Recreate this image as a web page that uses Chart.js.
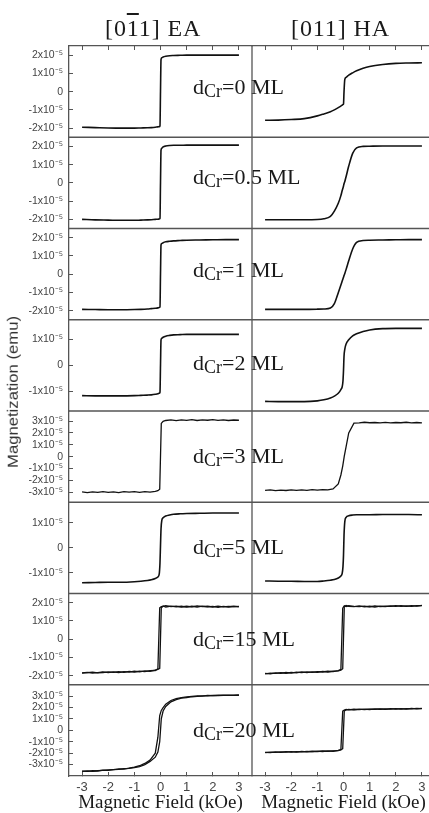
<!DOCTYPE html>
<html>
<head>
<meta charset="utf-8">
<title>Magnetization loops vs Cr thickness</title>
<script src="https://cdn.jsdelivr.net/npm/chart.js@4.4.0/dist/chart.umd.min.js"></script>
<style>
  html, body { margin: 0; padding: 0; background: #fff; overflow: hidden; }
  #wrap { position: relative; width: 429px; height: 813px; overflow: hidden; }
  #loops { position: absolute; left: 0; top: 0; }
  .lbl { position: absolute; font-family: 'Liberation Serif', 'Times New Roman', serif; color: #1a1a1a; line-height: 1; white-space: nowrap; }
  .col { font-size: 24px; letter-spacing: 0.9px; top: 16px; }
  .over { text-decoration: overline; }
  .dcr { font-size: 22px; }
  .dcr span { font-size: 18px; vertical-align: -3px; }
  #ytitle { position: absolute; left: 13px; top: 392px; white-space: nowrap;
    font: 14.5px 'Liberation Sans', Arial, sans-serif; color: #333; line-height: 1;
    transform: translate(-50%, -50%) rotate(-90deg) scaleX(1.15); }
</style>
</head>
<body>
<div id="wrap">
  <canvas id="loops" width="435" height="813"></canvas>
  <div class="lbl col" style="left:105px">[0<span class="over">1</span>1] EA</div>
  <div class="lbl col" style="left:291px">[011] HA</div>
  <div id="ytitle">Magnetization (emu)</div>
</div>

<script>
// field in kOe, moment in units of 1e-5 emu
const fieldTicks = [-3, -2, -1, 0, 1, 2, 3];
const crThickness = ['0', '0.5', '1', '2', '3', '5', '15', '20'];
const rowLimit = [2.5, 2.5, 2.5, 1.75, 3.85, 1.82, 2.5, 4];
const rowTicks = [
  [-2, -1, 0, 1, 2], [-2, -1, 0, 1, 2], [-2, -1, 0, 1, 2], [-1, 0, 1],
  [-3, -2, -1, 0, 1, 2, 3], [-1, 0, 1], [-2, -1, 0, 1, 2], [-3, -2, -1, 0, 1, 2, 3]
];

const fieldSmooth = [-3, -2.5, -2, -1.5, -1, -0.75, -0.5, -0.35, -0.2, -0.1, -0.05, -0.02, 0,
  0.02, 0.05, 0.1, 0.2, 0.35, 0.5, 0.75, 1, 1.5, 2, 2.5, 3];
const fieldNoisy = [-3, -2.8, -2.6, -2.4, -2.2, -2, -1.8, -1.6, -1.4, -1.2, -1, -0.8, -0.6, -0.4, -0.2, -0.1, -0.03,
  0.03, 0.1, 0.2, 0.4, 0.6, 0.8, 1, 1.2, 1.4, 1.6, 1.8, 2, 2.2, 2.4, 2.6, 2.8, 3];

const ea0 = [-1.95, -1.97, -1.99, -2.0, -2.0, -1.99, -1.98, -1.97, -1.95, -1.93, -1.92, -1.88, 0,
  1.75, 1.86, 1.9, 1.94, 1.97, 1.98, 1.99, 2.0, 2.0, 2.0, 2.0, 2.0];
const ha0 = [-1.57, -1.56, -1.53, -1.48, -1.33, -1.22, -1.1, -1.0, -0.88, -0.79, -0.74, -0.71, -0.68,
  0.0, 0.67, 0.78, 0.9, 1.03, 1.14, 1.28, 1.38, 1.49, 1.55, 1.57, 1.58];
const ea05 = [-2.0, -2.03, -2.04, -2.05, -2.05, -2.04, -2.03, -2.02, -2.0, -1.99, -1.98, -1.95, 0,
  1.8, 1.9, 1.97, 2.02, 2.05, 2.06, 2.06, 2.07, 2.07, 2.07, 2.07, 2.07];
const ha05 = [-2.02, -2.02, -2.02, -2.02, -2.01, -1.97, -1.84, -1.55, -1.12, -0.7, -0.42, -0.28, -0.17,
  -0.05, 0.08, 0.35, 0.92, 1.62, 1.92, 2.0, 2.01, 2.02, 2.02, 2.02, 2.02];
const ea1 = [-1.93, -1.94, -1.95, -1.95, -1.94, -1.93, -1.91, -1.89, -1.87, -1.85, -1.83, -1.8, 0,
  1.6, 1.68, 1.72, 1.77, 1.8, 1.82, 1.84, 1.86, 1.87, 1.88, 1.89, 1.89];
const ha1 = [-1.93, -1.93, -1.93, -1.93, -1.92, -1.91, -1.86, -1.62, -1.02, -0.6, -0.38, -0.25, -0.17,
  -0.08, 0.04, 0.26, 0.73, 1.38, 1.74, 1.84, 1.86, 1.87, 1.88, 1.89, 1.89];
const ea2 = [-1.16, -1.17, -1.17, -1.17, -1.16, -1.15, -1.14, -1.13, -1.11, -1.09, -1.07, -1.03, 0,
  0.98, 1.04, 1.08, 1.12, 1.15, 1.17, 1.18, 1.19, 1.19, 1.19, 1.19, 1.19];
const ha2 = [-1.38, -1.39, -1.39, -1.39, -1.36, -1.32, -1.25, -1.18, -1.07, -0.93, -0.82, -0.6, -0.2,
  0.35, 0.62, 0.82, 0.98, 1.13, 1.21, 1.3, 1.36, 1.41, 1.42, 1.42, 1.42];
const ea3 = [-2.98, -3.04, -2.97, -3.02, -2.95, -3.01, -2.97, -3.03, -2.96, -3.0, -2.95, -3.01, -2.96, -2.99, -2.93, -2.88, -2.75,
  2.8, 2.98, 3.05, 3.1, 3.04, 3.1, 3.06, 3.12, 3.05, 3.1, 3.07, 3.12, 3.06, 3.1, 3.05, 3.09, 3.07];
const ha3 = [-2.84, -2.8, -2.87, -2.82, -2.86, -2.8, -2.85, -2.81, -2.84, -2.79, -2.83, -2.78, -2.8, -2.72, -2.3, -1.55, -0.8,
  0.05, 0.85, 2.0, 2.82, 2.85, 2.9, 2.86, 2.88, 2.84, 2.89, 2.85, 2.88, 2.86, 2.9, 2.85, 2.88, 2.84];
const ea5 = [-1.39, -1.38, -1.37, -1.37, -1.35, -1.33, -1.3, -1.27, -1.22, -1.16, -1.05, -0.6, 0.1,
  0.75, 1.1, 1.2, 1.27, 1.31, 1.34, 1.36, 1.37, 1.38, 1.39, 1.39, 1.39];
const ha5 = [-1.32, -1.33, -1.33, -1.34, -1.34, -1.32, -1.29, -1.26, -1.2, -1.12, -1.02, -0.75, -0.3,
  0.5, 1.05, 1.22, 1.28, 1.31, 1.32, 1.32, 1.32, 1.33, 1.33, 1.33, 1.32];
const ea15Up = [-1.85, -1.82, -1.86, -1.83, -1.8, -1.84, -1.79, -1.83, -1.78, -1.81, -1.76, -1.79, -1.74, -1.77, -1.7, -1.66, -1.6,
  1.7, 1.82, 1.76, 1.81, 1.77, 1.8, 1.75, 1.8, 1.76, 1.81, 1.77, 1.79, 1.74, 1.79, 1.76, 1.8, 1.77];
const ea15Down = [-1.86, -1.84, -1.81, -1.85, -1.83, -1.79, -1.82, -1.78, -1.82, -1.77, -1.8, -1.75, -1.78, -1.73, -1.72, -1.62,
  1.72, 1.78, 1.8, 1.83, 1.78, 1.81, 1.76, 1.8, 1.77, 1.82, 1.78, 1.8, 1.76, 1.81, 1.77, 1.79, 1.78, 1.8];
const ha15Up = [-1.9, -1.86, -1.88, -1.84, -1.87, -1.82, -1.85, -1.8, -1.83, -1.79, -1.82, -1.77, -1.8, -1.75, -1.74, -1.7, -1.62,
  1.78, 1.84, 1.8, 1.78, 1.82, 1.77, 1.8, 1.76, 1.81, 1.78, 1.82, 1.79, 1.83, 1.8, 1.84, 1.81, 1.85];
const ha15Down = [-1.88, -1.9, -1.85, -1.88, -1.83, -1.86, -1.81, -1.84, -1.79, -1.82, -1.78, -1.8, -1.76, -1.78, -1.72, -1.66,
  1.7, 1.82, 1.78, 1.83, 1.79, 1.78, 1.81, 1.77, 1.82, 1.78, 1.8, 1.79, 1.83, 1.8, 1.82, 1.79, 1.83, 1.84];
const ea20Up = [-3.6, -3.55, -3.6, -3.52, -3.5, -3.47, -3.44, -3.42, -3.36, -3.34, -3.27, -3.18, -3.0, -2.72, -2.35, -1.9, -1.0,
  1.0, 1.7, 2.1, 2.5, 2.7, 2.82, 2.88, 2.95, 2.98, 3.03, 3.02, 3.07, 3.05, 3.08, 3.06, 3.09, 3.08];
const ea20Down = [-3.57, -3.6, -3.54, -3.56, -3.48, -3.5, -3.45, -3.38, -3.4, -3.3, -3.22, -3.1, -2.9, -2.6, -2.0, -0.6,
  1.3, 1.75, 2.0, 2.3, 2.62, 2.78, 2.88, 2.93, 2.98, 3.02, 3.0, 3.06, 3.04, 3.08, 3.06, 3.09, 3.07, 3.1];
const ha20Up = [-1.95, -1.9, -1.93, -1.88, -1.91, -1.86, -1.9, -1.85, -1.88, -1.83, -1.86, -1.81, -1.84, -1.8, -1.78, -1.72, -1.6,
  1.7, 1.8, 1.84, 1.8, 1.86, 1.82, 1.87, 1.84, 1.89, 1.85, 1.9, 1.86, 1.91, 1.87, 1.92, 1.88, 1.92];
const ha20Down = [-1.92, -1.95, -1.89, -1.92, -1.87, -1.9, -1.86, -1.89, -1.84, -1.87, -1.82, -1.85, -1.8, -1.83, -1.76, -1.68,
  1.68, 1.78, 1.83, 1.8, 1.85, 1.82, 1.87, 1.83, 1.88, 1.85, 1.88, 1.86, 1.9, 1.87, 1.91, 1.88, 1.92, 1.9];

// [column, row, field grid, moment]
const curves = [
  ['EA', 0, fieldSmooth, ea0], ['HA', 0, fieldSmooth, ha0],
  ['EA', 1, fieldSmooth, ea05], ['HA', 1, fieldSmooth, ha05],
  ['EA', 2, fieldSmooth, ea1], ['HA', 2, fieldSmooth, ha1],
  ['EA', 3, fieldSmooth, ea2], ['HA', 3, fieldSmooth, ha2],
  ['EA', 4, fieldNoisy, ea3], ['HA', 4, fieldNoisy, ha3],
  ['EA', 5, fieldSmooth, ea5], ['HA', 5, fieldSmooth, ha5],
  ['EA', 6, fieldNoisy, ea15Up], ['EA', 6, fieldNoisy, ea15Down],
  ['HA', 6, fieldNoisy, ha15Up], ['HA', 6, fieldNoisy, ha15Down],
  ['EA', 7, fieldNoisy, ea20Up], ['EA', 7, fieldNoisy, ea20Down],
  ['HA', 7, fieldNoisy, ha20Up], ['HA', 7, fieldNoisy, ha20Down]
];

const frameColor = '#555';
const labelDrop = [2.5, 2, 3.5, 5, 6.5, 7, 7.5, 7];

function fieldAxis(position, weight, showLabels) {
  return {
    type: 'linear', position: position, stack: position + 'Field', stackWeight: 1, weight: weight,
    min: -3.5, max: 3.5,
    afterBuildTicks: s => { s.ticks = fieldTicks.map(v => ({ value: v })); },
    afterFit: s => {
      s.height = position === 'top' ? 46 : 37;
      s.paddingLeft = 0;
      s.paddingRight = 0;
    },
    grid: { drawOnChartArea: false, tickLength: -4, tickColor: frameColor },
    border: { color: frameColor, width: 1.3 },
    ticks: {
      display: showLabels, autoSkip: false, maxRotation: 0, padding: 8, color: '#444',
      font: { family: 'Liberation Sans', size: 13 }
    },
    title: {
      display: showLabels, text: 'Magnetic Field (kOe)', color: '#1a1a1a',
      font: { family: 'Liberation Serif', size: 19, lineHeight: 1 }, padding: { top: 0, bottom: 0 }
    }
  };
}

const scales = {
  tEA: fieldAxis('top', 2, false),
  tHA: fieldAxis('top', 1, false),
  xEA: fieldAxis('bottom', 1, true),
  xHA: fieldAxis('bottom', 2, true)
};
crThickness.forEach((d, i) => {
  scales['y' + i] = {
    type: 'linear', position: 'left', stack: 'rows', stackWeight: 1, weight: 8 - i,
    min: -rowLimit[i], max: rowLimit[i],
    afterBuildTicks: s => { s.ticks = rowTicks[i].map(v => ({ value: v })); },
    afterFit: s => { s.width = 69; s.paddingTop = 0; s.paddingBottom = 0; },
    grid: { drawOnChartArea: false, tickLength: -4, tickColor: frameColor },
    border: { color: frameColor, width: 1.3 },
    ticks: {
      autoSkip: false, padding: 10, color: '#444',
      font: { family: 'Liberation Sans', size: 10.5 },
      callback: v => v === 0 ? '0' : v + 'x10\u207B\u2075'
    }
  };
});

const datasets = curves.map(([col, row, field, moment]) => ({
  xAxisID: 'x' + col,
  yAxisID: 'y' + row,
  data: field.map((h, k) => ({ x: h, y: moment[k] })),
  borderColor: '#111',
  borderWidth: field === fieldNoisy ? 1.3 : 1.6,
  cubicInterpolationMode: field === fieldNoisy ? 'default' : 'monotone',
  pointRadius: 0,
  fill: false
}));

// row separators and the EA | HA divider, placed from the scales
const panelLines = {
  id: 'panelLines',
  beforeDatasetsDraw(chart) {
    const { ctx, chartArea } = chart;
    ctx.save();
    ctx.strokeStyle = frameColor;
    ctx.lineWidth = 1.3;
    ctx.beginPath();
    for (let i = 0; i < crThickness.length - 1; i++) {
      const y = chart.scales['y' + i].bottom;
      ctx.moveTo(chartArea.left, y);
      ctx.lineTo(chartArea.right, y);
    }
    const x = chart.scales.xEA.right;
    ctx.moveTo(x, chartArea.top);
    ctx.lineTo(x, chartArea.bottom);
    ctx.stroke();
    ctx.restore();
  }
};

const chart = new Chart(document.getElementById('loops'), {
  type: 'line',
  data: { datasets: datasets },
  options: {
    responsive: false,
    animation: false,
    devicePixelRatio: 1,
    layout: { padding: 0 },
    plugins: { legend: { display: false }, tooltip: { enabled: false } },
    scales: scales
  },
  plugins: [panelLines]
});

const wrap = document.getElementById('wrap');
crThickness.forEach((d, i) => {
  const s = chart.scales['y' + i];
  const base = (s.top + s.bottom) / 2 + labelDrop[i];
  const el = document.createElement('div');
  el.className = 'lbl dcr';
  el.innerHTML = 'd<span>Cr</span>=' + d + ' ML';
  el.style.left = '193px';
  el.style.top = (base - 18.4) + 'px';
  wrap.appendChild(el);
});
</script>
</body>
</html>
